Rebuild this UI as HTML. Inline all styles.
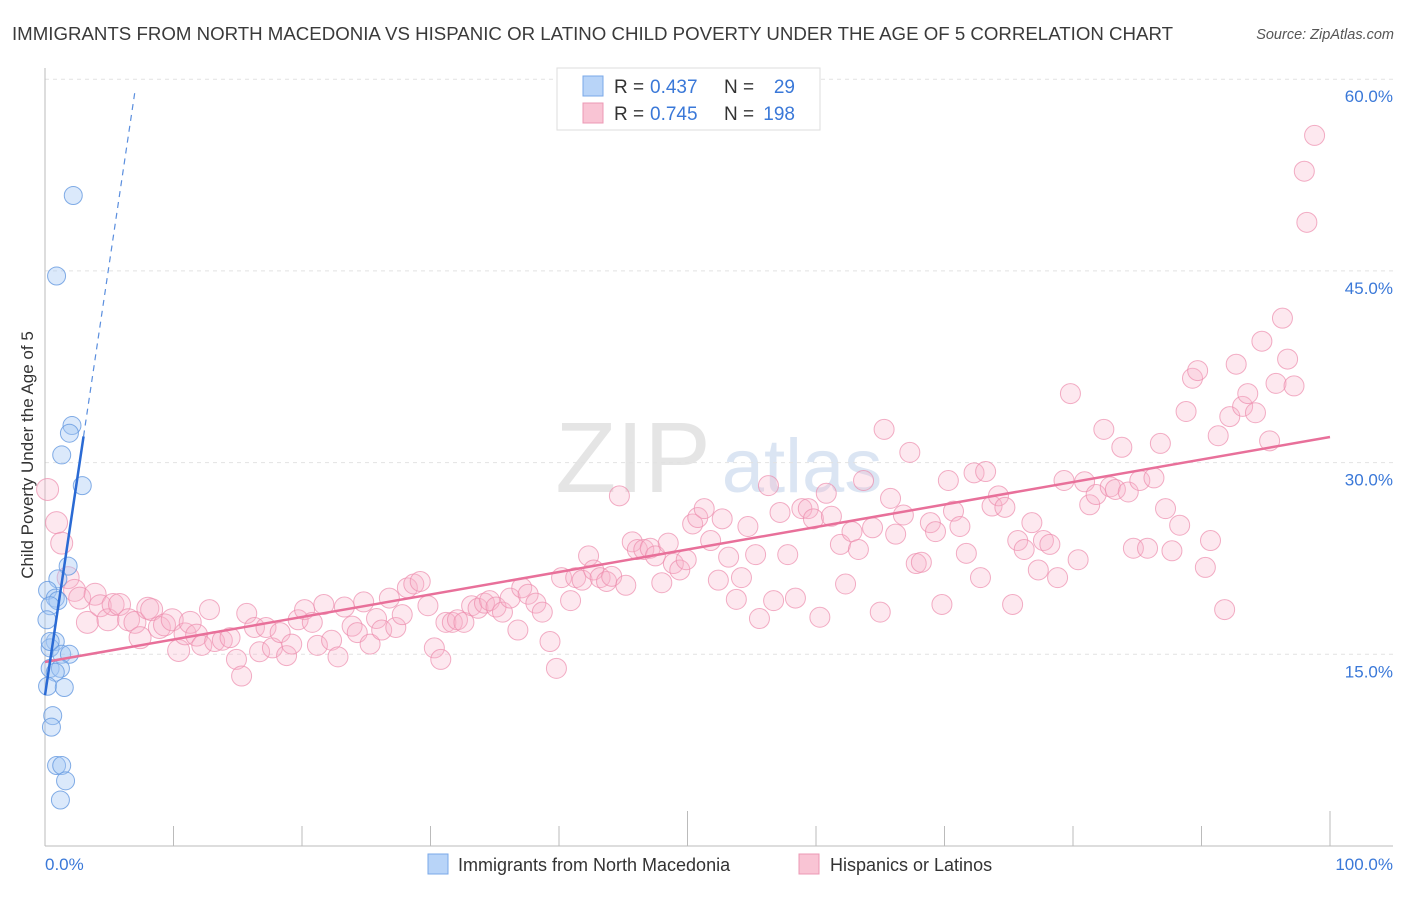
<!DOCTYPE html>
<html><head><meta charset="utf-8"><style>
body{margin:0;background:#fff;font-family:"Liberation Sans",sans-serif}
svg text{font-family:"Liberation Sans",sans-serif}
</style></head><body>
<svg id="chart" width="1406" height="892" xmlns="http://www.w3.org/2000/svg">
<text x="12" y="40" font-size="18.3" fill="#3a3a3a" textLength="1161" lengthAdjust="spacingAndGlyphs">IMMIGRANTS FROM NORTH MACEDONIA VS HISPANIC OR LATINO CHILD POVERTY UNDER THE AGE OF 5 CORRELATION CHART</text>
<text x="1394" y="39" font-size="14.5" fill="#555" text-anchor="end" font-style="italic">Source: ZipAtlas.com</text>
<g opacity="0.5">
<text x="633" y="492" font-size="100" fill="#ccc" text-anchor="middle" font-family="Liberation Serif">ZIP</text>
<text x="802" y="492" font-size="76" fill="#b8cce8" text-anchor="middle">atlas</text>
</g>
<g id="grid"></g><g id="axes"></g><g id="pink"></g><g id="blue"></g><g id="trends"></g>
<text transform="translate(33,455) rotate(-90)" font-size="17" fill="#333" text-anchor="middle">Child Poverty Under the Age of 5</text>
<text x="45" y="870" font-size="17" fill="#3a78d8">0.0%</text>
<text x="1393" y="870" font-size="17" fill="#3a78d8" text-anchor="end">100.0%</text>
<g>
<rect x="557" y="68" width="263" height="62" fill="#fff" stroke="#ddd"/>
<rect x="583" y="76" width="20" height="20" fill="#b8d4f8" stroke="#7aa8e8"/>
<rect x="583" y="103" width="20" height="20" fill="#f9c4d4" stroke="#ec98b4"/>
<text x="614" y="93" font-size="19" fill="#333">R =</text>
<text x="650" y="93" font-size="19" fill="#3a78d8">0.437</text>
<text x="724" y="93" font-size="19" fill="#333">N =</text>
<text x="795" y="93" font-size="19" fill="#3a78d8" text-anchor="end">29</text>
<text x="614" y="120" font-size="19" fill="#333">R =</text>
<text x="650" y="120" font-size="19" fill="#3a78d8">0.745</text>
<text x="724" y="120" font-size="19" fill="#333">N =</text>
<text x="795" y="120" font-size="19" fill="#3a78d8" text-anchor="end">198</text>
</g>
<g>
<rect x="428" y="854" width="20" height="20" fill="#b8d4f8" stroke="#7aa8e8"/>
<text x="458" y="871" font-size="18" fill="#333">Immigrants from North Macedonia</text>
<rect x="799" y="854" width="20" height="20" fill="#f9c4d4" stroke="#ec98b4"/>
<text x="830" y="871" font-size="18" fill="#333">Hispanics or Latinos</text>
</g>
</svg>
<script>
const yTicks=[15,30,45,60];
const yTickLabels=["15.0%","30.0%","45.0%","60.0%"];
const xTicks=[0,10,20,30,40,50,60,70,80,90,100];
const pinkX=[0.2,0.9,1.3,1.8,2.3,2.7,3.3,3.9,4.3,4.9,5.3,5.8,6.5,7.0,7.4,8.0,8.3,8.9,9.3,9.9,10.4,10.9,11.3,11.8,12.2,12.8,13.2,13.8,14.4,14.9,15.3,15.7,16.3,16.7,17.2,17.7,18.3,18.8,19.2,19.7,20.2,20.8,21.2,21.7,22.3,22.8,23.3,23.9,24.3,24.8,25.3,25.8,26.2,26.8,27.3,27.8,28.2,28.7,29.2,29.8,30.3,30.8,31.2,31.7,32.1,32.6,33.2,33.7,34.2,34.6,35.1,35.6,36.2,36.8,37.1,37.6,38.2,38.7,39.3,39.8,40.2,40.9,41.3,41.8,42.3,42.7,43.2,43.7,44.1,44.7,45.2,45.7,46.1,46.6,47.1,47.5,48.0,48.5,48.9,49.4,49.9,50.4,50.8,51.3,51.8,52.4,52.7,53.2,53.8,54.2,54.7,55.3,55.6,56.3,56.7,57.2,57.8,58.4,58.9,59.4,59.8,60.3,60.8,61.2,61.9,62.3,62.8,63.3,63.7,64.4,65.0,65.3,65.8,66.2,66.8,67.3,67.8,68.2,68.9,69.3,69.8,70.3,70.7,71.2,71.7,72.3,72.8,73.2,73.7,74.2,74.7,75.3,75.7,76.2,76.8,77.3,77.7,78.2,78.8,79.3,79.8,80.4,80.9,81.3,81.8,82.4,82.9,83.3,83.8,84.3,84.7,85.2,85.8,86.3,86.8,87.2,87.7,88.3,88.8,89.3,89.7,90.3,90.7,91.3,91.8,92.2,92.7,93.2,93.6,94.2,94.7,95.3,95.8,96.3,96.7,97.2,98.0,98.2,98.8];
const pinkY=[27.9,25.3,23.7,21.0,20.0,19.4,17.5,19.7,18.8,17.7,18.9,18.9,17.7,17.5,16.3,18.6,18.5,17.1,17.3,17.7,15.3,16.6,17.5,16.5,15.7,18.5,16.0,16.1,16.3,14.6,13.3,18.2,17.1,15.2,17.1,15.5,16.7,14.9,15.8,17.7,18.5,17.5,15.7,18.9,16.1,14.8,18.7,17.2,16.7,19.1,15.8,17.8,16.9,19.4,17.1,18.1,20.2,20.5,20.7,18.8,15.5,14.6,17.5,17.5,17.7,17.5,18.8,18.6,19.0,19.2,18.7,18.3,19.4,16.9,20.2,19.7,19.0,18.3,16.0,13.9,21.0,19.2,21.0,20.8,22.7,21.6,21.0,20.7,21.1,27.4,20.4,23.8,23.2,23.2,23.3,22.7,20.6,23.7,22.1,21.6,22.4,25.2,25.7,26.4,23.9,20.8,25.6,22.6,19.3,21.0,25.0,22.8,17.8,28.2,19.2,26.1,22.8,19.4,26.4,26.4,25.6,17.9,27.6,25.8,23.6,20.5,24.6,23.2,28.6,24.9,18.3,32.6,27.2,24.4,25.9,30.8,22.1,22.2,25.3,24.6,18.9,28.6,26.2,25.0,22.9,29.2,21.0,29.3,26.6,27.4,26.5,18.9,23.9,23.2,25.3,21.6,23.9,23.6,21.0,28.6,35.4,22.4,28.5,26.7,27.5,32.6,28.1,27.9,31.2,27.7,23.3,28.6,23.3,28.8,31.5,26.4,23.1,25.1,34.0,36.6,37.2,21.8,23.9,32.1,18.5,33.6,37.7,34.4,35.4,33.9,39.5,31.7,36.2,41.3,38.1,36.0,52.8,48.8,55.6];
const blueX=[2.2,0.9,2.1,1.9,1.3,2.9,1.8,1.0,0.2,0.8,1.0,0.4,0.15,0.8,0.4,1.3,1.9,0.4,1.2,0.8,0.2,1.5,0.6,0.5,0.9,1.3,1.6,1.2,0.4];
const blueY=[50.9,44.6,32.9,32.3,30.6,28.2,21.9,20.9,20.0,19.4,19.2,18.8,17.7,16.0,15.5,15.0,15.0,13.9,13.9,13.6,12.5,12.4,10.2,9.3,6.3,6.3,5.1,3.6,16.0];
const pinkTrend=[14.4,0.176];
const blueTrend=[11.8,6.75];
const NS="http://www.w3.org/2000/svg";
const X=v=>45+v*12.85, Y=v=>846-v*12.78;
function mk(tag,attrs,parent){const e=document.createElementNS(NS,tag);for(const k in attrs)e.setAttribute(k,attrs[k]);document.getElementById(parent).appendChild(e);return e;}
yTicks.forEach((t,i)=>{
 const l=mk('line',{x1:45,x2:1393,y1:Y(t),y2:Y(t),stroke:'#e2e2e2','stroke-dasharray':'4,4'},'grid');
 
 
 const tx=mk('text',{x:1393,y:Y(t)+23,'font-size':17,fill:'#3a78d8','text-anchor':'end'},'grid');
 tx.textContent=yTickLabels[i];
 
 
});
const ax=mk('line',{x1:45,x2:45,y1:68,y2:846,stroke:'#bbb'},'axes');


const bx=mk('line',{x1:45,x2:1393,y1:846,y2:846,stroke:'#bbb'},'axes');


xTicks.forEach(t=>{
 const tall=(t===50||t===100);
 const l=mk('line',{x1:X(t),x2:X(t),y1:tall?811:826,y2:846,stroke:'#bbb'},'axes');
 
 
});
pinkX.forEach((v,i)=>{
 const c=mk('circle',{cx:X(v),cy:Y(pinkY[i]),r:v<12?11:10,fill:'rgba(248,180,202,0.3)',stroke:'rgba(236,140,172,0.7)','stroke-width':1},'pink');
 
 
});
blueX.forEach((v,i)=>{
 const c=mk('circle',{cx:X(v),cy:Y(blueY[i]),r:9,fill:'rgba(166,200,244,0.4)',stroke:'rgba(100,152,224,0.8)','stroke-width':1},'blue');
 
 
});
let t=mk('line',{x1:X(0),y1:Y(pinkTrend[0]),x2:X(100),y2:Y(pinkTrend[0]+pinkTrend[1]*100),stroke:'#e8709a','stroke-width':2.5},'trends');


t=mk('line',{x1:X(0),y1:Y(blueTrend[0]),x2:X(3),y2:Y(blueTrend[0]+blueTrend[1]*3),stroke:'#2a6ad4','stroke-width':2.5},'trends');


t=mk('line',{x1:X(3),y1:Y(blueTrend[0]+blueTrend[1]*3),x2:X(7),y2:Y(blueTrend[0]+blueTrend[1]*7),stroke:'#5a8ede','stroke-width':1.2,'stroke-dasharray':'6,5'},'trends');


</script>
</body></html>
